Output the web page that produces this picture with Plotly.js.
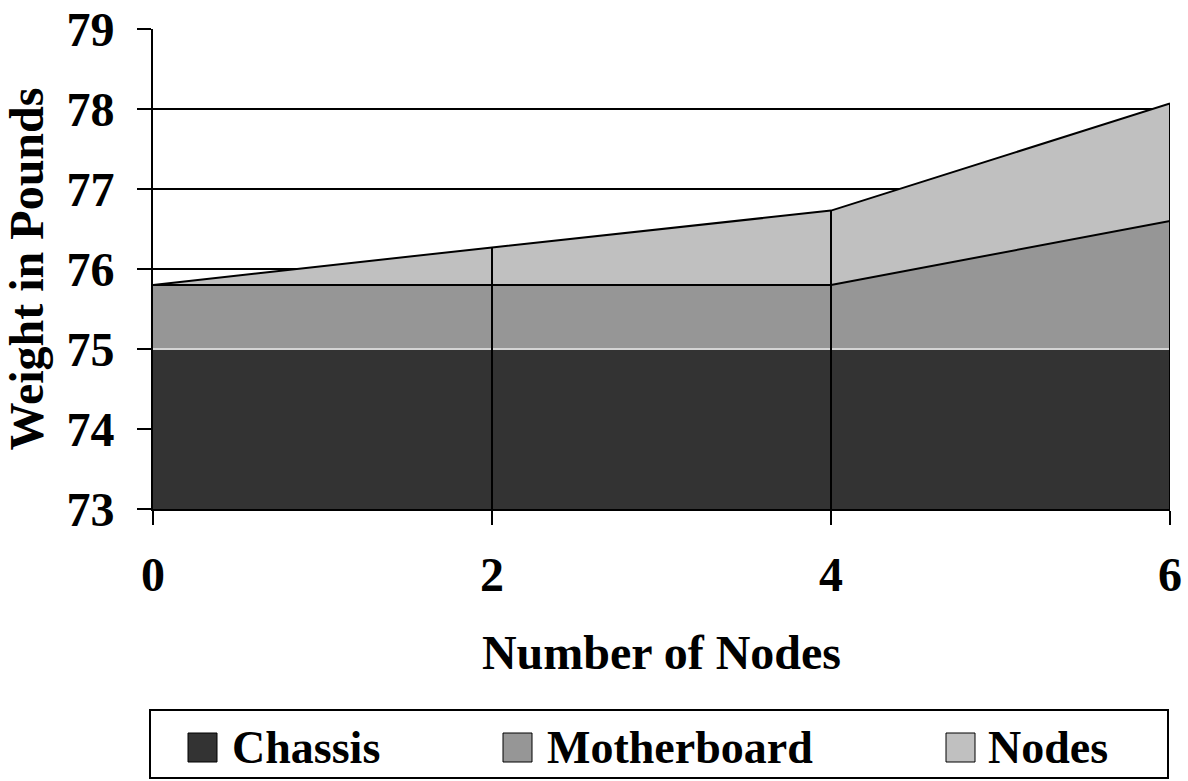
<!DOCTYPE html>
<html>
<head>
<meta charset="utf-8">
<script src="https://cdn.plot.ly/plotly-3.0.1.min.js"></script>
<style>html,body{margin:0;padding:0;background:#fff;}#chart{width:1188px;height:781px;}</style>
</head>
<body>
<div id="chart"></div>
<script>
// ---- data ----
const nodesX = [0, 2, 4, 6];
const seriesNames = ["Chassis", "Motherboard", "Nodes"];
const chassis = [75, 75, 75, 75];
const motherboard = [0.8, 0.8, 0.8, 1.6];
const nodes = [0, 0.47, 0.93, 1.47];
const xTickLabels = ["0", "2", "4", "6"];
const yTickVals = [73, 74, 75, 76, 77, 78, 79];

// ---- styling ----
const fills = ["#333333", "#969696", "#c0c0c0"];
const lineCols = ["#d4d4d4", "#000000", "#000000"];
const FONT = "Liberation Serif, Times New Roman, serif";
const W = 1188, H = 781;
const M = {l: 153, r: 18, t: 29, b: 272};
const PW = W - M.l - M.r, PH = H - M.t - M.b;
const px2x = p => (p - M.l) / PW;
const py2y = p => (M.t + PH - p) / PH;

const seriesVals = [chassis, motherboard, nodes];
const traces = seriesVals.map((vals, i) => ({
  type: "scatter",
  x: nodesX,
  y: vals,
  name: seriesNames[i],
  stackgroup: "one",
  mode: "lines",
  fillcolor: fills[i],
  line: {color: lineCols[i], width: 2},
  hoverinfo: "x+y+name"
}));

// drop lines (from stacked totals down to axis min)
const totals = nodesX.map((_, k) => chassis[k] + motherboard[k] + nodes[k]);
const dx = [], dy = [];
nodesX.forEach((x, k) => {
  if (k === 0) return;
  dx.push(x, x, null);
  dy.push(73, totals[k], null);
});
traces.push({
  type: "scatter", x: dx, y: dy, mode: "lines",
  line: {color: "#000", width: 2}, showlegend: false, hoverinfo: "skip"
});

// legend built from shapes + annotations
const legendBox = {l: 150, r: 1168, t: 710, b: 778};
const legendItems = [
  {mx: 188, tx: 230},
  {mx: 503, tx: 545},
  {mx: 946, tx: 986}
];
const shapes = [{
  type: "rect", xref: "paper", yref: "paper",
  x0: px2x(legendBox.l), x1: px2x(legendBox.r),
  y0: py2y(legendBox.b), y1: py2y(legendBox.t),
  line: {color: "#000", width: 2}, fillcolor: "rgba(0,0,0,0)"
}];
const annotations = [];
legendItems.forEach((it, i) => {
  shapes.push({
    type: "rect", xref: "paper", yref: "paper",
    x0: px2x(it.mx), x1: px2x(it.mx + 29),
    y0: py2y(762), y1: py2y(733),
    line: {color: "#000", width: 1}, fillcolor: fills[i]
  });
  annotations.push({
    xref: "paper", yref: "paper", x: px2x(it.tx), y: py2y(747),
    xanchor: "left", yanchor: "middle", showarrow: false,
    text: seriesNames[i],
    font: {family: FONT, size: 46, color: "#000", weight: "bold"}
  });
});

const layout = {
  width: W, height: H,
  margin: M,
  paper_bgcolor: "#fff", plot_bgcolor: "#fff",
  showlegend: false,
  font: {family: FONT, color: "#000", weight: "bold", size: 48},
  xaxis: {
    range: [0, 6], tickvals: nodesX, ticktext: xTickLabels,
    showgrid: false, zeroline: false,
    showline: true, linecolor: "#000", linewidth: 2,
    ticks: "outside", ticklen: 14, tickwidth: 2, tickcolor: "#000",
    ticklabelstandoff: 8,
    tickfont: {family: FONT, size: 48, color: "#000", weight: "bold"},
    title: {text: "Number of Nodes", standoff: 36,
      font: {family: FONT, size: 48, color: "#000", weight: "bold"}},
    automargin: false
  },
  yaxis: {
    range: [73, 79], tickvals: yTickVals,
    showgrid: true, gridcolor: "#000", gridwidth: 2,
    zeroline: false,
    showline: true, linecolor: "#000", linewidth: 2,
    ticks: "outside", ticklen: 14, tickwidth: 2, tickcolor: "#000",
    ticklabelstandoff: 13,
    tickfont: {family: FONT, size: 48, color: "#000", weight: "bold"},
    title: {text: "Weight in Pounds", standoff: 14,
      font: {family: FONT, size: 48, color: "#000", weight: "bold"}},
    automargin: false
  },
  shapes: shapes,
  annotations: annotations
};

Plotly.newPlot("chart", traces, layout, {displayModeBar: false, staticPlot: true});
</script>
</body>
</html>
